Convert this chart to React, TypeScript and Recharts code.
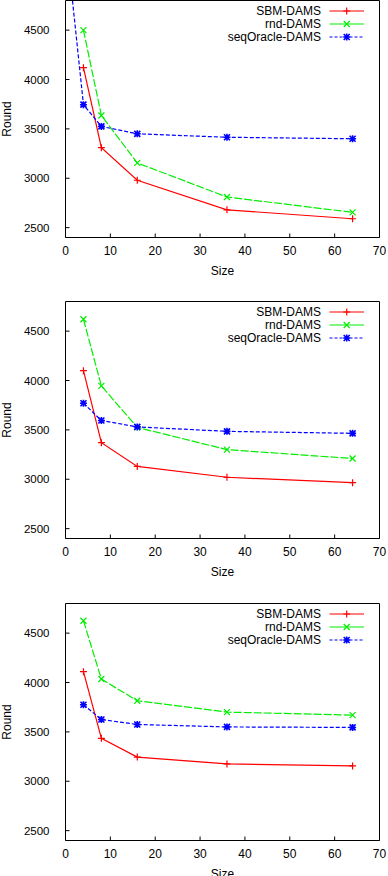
import React from 'react';
import { LineChart, Line, XAxis, YAxis } from 'recharts';

// x values (Size)
const SIZES = [4, 8, 16, 36, 64];
const SIZES_SEQ_TOP = [1, 4, 8, 16, 36, 64];

const X_TICKS = [0, 10, 20, 30, 40, 50, 60, 70];
const Y_TICKS = [2500, 3000, 3500, 4000, 4500];
const Y_DOMAIN = [2400, 4800];

// panel 1
const sbm1 = [4120, 3310, 2980, 2680, 2590];
const rnd1 = [4500, 3635, 3155, 2810, 2655];
const seq1 = [5040, 3745, 3525, 3450, 3415, 3400];

// panel 2
const sbm2 = [4100, 3370, 3130, 3020, 2965];
const rnd2 = [4620, 3945, 3525, 3300, 3210];
const seq2 = [3770, 3595, 3530, 3485, 3465];

// panel 3
const sbm3 = [4110, 3435, 3245, 3175, 3155];
const rnd3 = [4625, 4035, 3815, 3700, 3670];
const seq3 = [3775, 3625, 3575, 3550, 3545];

const SERIES_NAMES = ['SBM-DAMS', 'rnd-DAMS', 'seqOracle-DAMS'];

const FONT = '"Liberation Sans", Arial, sans-serif';

const STYLES = [
  { color: '#ff0000', dash: undefined, legendDash: undefined, marker: 'plus' },
  { color: '#00ee00', dash: '8 2', legendDash: undefined, marker: 'cross' },
  { color: '#0000ff', dash: '4 2', legendDash: '3 2', marker: 'star' },
];

const toPoints = (sizes: number[], values: number[]) =>
  sizes.map((size, i) => ({ size, round: values[i] }));

const markerPath = (shape: string, cx: number, cy: number) => {
  const p = `M${cx - 3.5},${cy}H${cx + 3.5}M${cx},${cy - 3.5}V${cy + 3.5}`;
  const x = `M${cx - 3},${cy - 3}L${cx + 3},${cy + 3}M${cx - 3},${cy + 3}L${cx + 3},${cy - 3}`;
  if (shape === 'plus') return p;
  if (shape === 'cross') return x;
  return p + x;
};

const makeDot = (shape: string, color: string) => (props: any) => {
  const { cx, cy, index } = props;
  if (cx == null || cy == null) return <g key={`d${index}`} />;
  return (
    <path
      key={`d${index}`}
      d={markerPath(shape, cx, cy)}
      stroke={color}
      strokeWidth={shape === 'star' ? 1.6 : 1.2}
      fill="none"
    />
  );
};

const RoundLabel = (props: any) => {
  const vb = props.viewBox || { y: 10.5, height: 237 };
  const x = 11;
  const y = vb.y + vb.height / 2;
  return (
    <text x={x} y={y} transform={`rotate(-90 ${x} ${y})`} textAnchor="middle" fontSize={12} fontFamily={FONT} fill="#000">
      Round
    </text>
  );
};

const SizeLabel = (props: any) => {
  const vb = props.viewBox || { x: 65.5, y: 247.5, width: 314 };
  return (
    <text x={vb.x + vb.width / 2} y={vb.y + 37} textAnchor="middle" fontSize={12} fontFamily={FONT} fill="#000">
      Size
    </text>
  );
};

const LegendBox = () => (
  <svg width={388} height={60} style={{ position: 'absolute', left: 0, top: 0, pointerEvents: 'none' }}>
    {SERIES_NAMES.map((name, i) => {
      const s = STYLES[i];
      const y = 21 + i * 13;
      return (
        <g key={name}>
          <text x={321} y={y + 4.3} textAnchor="end" fontSize={12} fontFamily={FONT} fill="#000">
            {name}
          </text>
          <line x1={329.5} x2={364} y1={y} y2={y} stroke={s.color} strokeWidth={1.2} strokeDasharray={s.legendDash} />
          <path d={markerPath(s.marker, 346.7, y)} stroke={s.color} strokeWidth={s.marker === 'star' ? 1.6 : 1.2} fill="none" />
        </g>
      );
    })}
  </svg>
);

const Panel = ({ top, sets }: { top: number; sets: { name: string; data: any[] }[] }) => (
  <div style={{ position: 'absolute', left: 0, top, width: 388, height: 288 }}>
    <LineChart width={388} height={288} margin={{ top: 9.5, right: 7.5, bottom: 0.5, left: 0 }}>
      <XAxis
        type="number"
        dataKey="size"
        domain={[0, 70]}
        ticks={X_TICKS}
        interval={0}
        height={40}
        allowDataOverflow
        axisLine={{ stroke: '#000' }}
        tickLine={{ stroke: '#000' }}
        tickSize={-4}
        tickMargin={12.5}
        tick={{ fill: '#000', fontSize: 12, fontFamily: FONT }}
        label={SizeLabel}
      />
      <XAxis
        xAxisId="top"
        orientation="top"
        type="number"
        domain={[0, 70]}
        ticks={X_TICKS}
        interval={0}
        height={1}
        axisLine={{ stroke: '#000' }}
        tickLine={{ stroke: '#000' }}
        tickSize={-4}
        tick={false}
      />
      <YAxis
        type="number"
        domain={Y_DOMAIN}
        ticks={Y_TICKS}
        interval={0}
        width={65.5}
        allowDataOverflow
        axisLine={{ stroke: '#000' }}
        tickLine={{ stroke: '#000' }}
        tickSize={-4}
        tickMargin={20}
        tick={{ fill: '#000', fontSize: 11.5, fontFamily: FONT }}
        label={RoundLabel}
      />
      <YAxis
        yAxisId="right"
        orientation="right"
        type="number"
        domain={Y_DOMAIN}
        ticks={Y_TICKS}
        interval={0}
        width={1}
        axisLine={{ stroke: '#000' }}
        tickLine={{ stroke: '#000' }}
        tickSize={-4}
        tick={false}
      />
      {sets.map((s, i) => (
        <Line
          key={s.name}
          name={s.name}
          data={s.data}
          dataKey="round"
          type="linear"
          stroke={STYLES[i].color}
          strokeWidth={1.2}
          strokeDasharray={STYLES[i].dash}
          dot={makeDot(STYLES[i].marker, STYLES[i].color)}
          activeDot={false}
          isAnimationActive={false}
        />
      ))}
    </LineChart>
    <LegendBox />
  </div>
);

export default function App() {
  const panel1 = [
    { name: SERIES_NAMES[0], data: toPoints(SIZES, sbm1) },
    { name: SERIES_NAMES[1], data: toPoints(SIZES, rnd1) },
    { name: SERIES_NAMES[2], data: toPoints(SIZES_SEQ_TOP, seq1) },
  ];
  const panel2 = [
    { name: SERIES_NAMES[0], data: toPoints(SIZES, sbm2) },
    { name: SERIES_NAMES[1], data: toPoints(SIZES, rnd2) },
    { name: SERIES_NAMES[2], data: toPoints(SIZES, seq2) },
  ];
  const panel3 = [
    { name: SERIES_NAMES[0], data: toPoints(SIZES, sbm3) },
    { name: SERIES_NAMES[1], data: toPoints(SIZES, rnd3) },
    { name: SERIES_NAMES[2], data: toPoints(SIZES, seq3) },
  ];
  return (
    <div
      style={{
        position: 'absolute',
        left: 0,
        top: 0,
        width: 388,
        height: 876,
        overflow: 'hidden',
        background: '#fff',
        fontFamily: FONT,
      }}
    >
      <Panel top={-10} sets={panel1} />
      <Panel top={291} sets={panel2} />
      <Panel top={593} sets={panel3} />
    </div>
  );
}
